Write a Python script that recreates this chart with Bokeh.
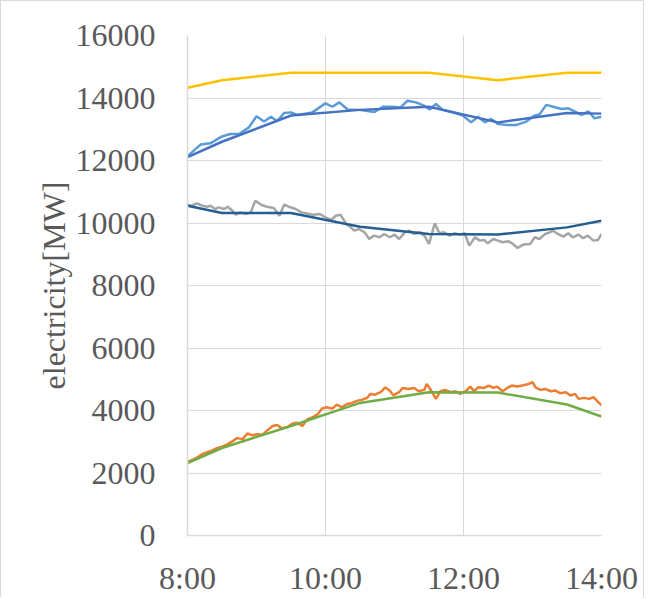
from bokeh.plotting import figure
from bokeh.models import FixedTicker, Range1d
from bokeh.embed import file_html
from bokeh.resources import INLINE

# ---------------- data ----------------
# hourly-style smooth series (hours of day)
smooth_hours = [8.0, 8.5, 9.5, 10.5, 11.5, 12.5, 13.5, 14.0]
yellow_vals = [14330, 14570, 14810, 14810, 14810, 14570, 14810, 14810]
blue_smooth_vals = [12110, 12600, 13440, 13620, 13720, 13220, 13520, 13500]
navy_smooth_vals = [10550, 10320, 10320, 9880, 9650, 9630, 9860, 10075]
green_vals = [2320, 2800, 3505, 4242, 4585, 4574, 4191, 3808]

# noisy light-blue series (hours of day)
lightblue_hours = [8.00, 8.19, 8.33, 8.50, 8.62, 8.75, 8.89, 9.00, 9.11, 9.21, 9.30, 9.40, 9.50,
                   9.59, 9.81, 10.00, 10.10, 10.20, 10.32, 10.49, 10.71, 10.83, 10.97, 11.09,
                   11.19, 11.31, 11.43, 11.51, 11.60, 11.70, 11.89, 11.99, 12.11, 12.21, 12.31,
                   12.40, 12.50, 12.62, 12.77, 12.91, 13.03, 13.10, 13.20, 13.30, 13.42, 13.52,
                   13.61, 13.71, 13.81, 13.90, 14.00]
lightblue_vals = [12140, 12510, 12550, 12770, 12850, 12850, 13060, 13415, 13245, 13400, 13255,
                  13520, 13540, 13460, 13540, 13830, 13720, 13860, 13630, 13620, 13550, 13720,
                  13720, 13700, 13915, 13860, 13755, 13630, 13810, 13620, 13510, 13440, 13220,
                  13400, 13220, 13330, 13170, 13140, 13140, 13245, 13440, 13470, 13780, 13720,
                  13650, 13670, 13575, 13460, 13575, 13350, 13400]

# noisy gray series (minutes after 8:00)
gray_minutes = [0, 4, 8, 13, 17, 20, 24, 27, 32, 35, 39, 42, 46, 51, 55, 59, 64, 69, 75, 80,
                84, 88, 94, 99, 103, 109, 115, 120, 125, 129, 133, 138, 142, 145, 149, 154, 158,
                162, 167, 171, 176, 180, 184, 189, 193, 197, 202, 206, 210, 215, 219, 223, 228,
                232, 237, 241, 245, 250, 254, 258, 261, 266, 270, 274, 279, 283, 287, 292, 298,
                302, 306, 311, 315, 318, 322, 327, 331, 335, 340, 344, 348, 353, 357, 360]
gray_vals = [10585, 10553, 10628, 10553, 10521, 10553, 10447, 10500, 10447, 10521,
             10394, 10266, 10340, 10287, 10340, 10713, 10585, 10521, 10479, 10234,
             10585, 10521, 10447, 10340, 10309, 10266, 10287, 10181, 10096, 10234,
             10266, 9968, 9862, 9755, 9809, 9702, 9489, 9596, 9543, 9649,
             9543, 9628, 9489, 9702, 9755, 9649, 9702, 9596, 9330, 9989,
             9670, 9702, 9596, 9670, 9628, 9670, 9277, 9543, 9436, 9457,
             9351, 9489, 9436, 9383, 9415, 9330, 9202, 9309, 9330, 9543,
             9489, 9649, 9702, 9755, 9649, 9564, 9670, 9543, 9628, 9511,
             9596, 9436, 9457, 9649]

# noisy orange series (minutes after 8:00)
orange_minutes = [0, 4, 8, 13, 17, 21, 26, 30, 35, 39, 43, 48, 52, 56, 61, 65, 69, 74, 78, 82,
                  87, 91, 95, 100, 104, 108, 113, 117, 121, 126, 130, 134, 139, 143, 148, 152,
                  156, 159, 163, 168, 172, 176, 179,
                  184, 187, 192, 197, 201, 206, 208, 211, 216, 220, 224, 229, 233, 237, 242,
                  246, 249, 253, 258, 262, 266, 269, 274, 278, 282, 287, 291, 295, 300, 303,
                  307, 311, 316, 320, 324, 329, 333, 337, 340, 345, 349, 353, 356, 360]
orange_vals = [2347, 2421, 2484, 2611, 2663, 2716, 2800, 2842, 2926, 3011, 3116, 3084, 3263,
               3211, 3242, 3221, 3347, 3505, 3537, 3432, 3474, 3579, 3611, 3505, 3716, 3768,
               3874, 4063, 4105, 4063, 4189, 4105, 4210, 4242, 4316, 4347, 4400, 4526, 4505,
               4589, 4737, 4632, 4484,
               4585, 4723, 4690, 4723, 4617, 4660, 4851, 4690, 4372, 4617, 4660, 4585, 4617,
               4532, 4617, 4766, 4617, 4745, 4723, 4798, 4723, 4766, 4617, 4723, 4798, 4766,
               4798, 4830, 4904, 4723, 4660, 4690, 4617, 4638, 4553, 4585, 4479, 4532, 4372,
               4404, 4372, 4425, 4319, 4160]

x_ticks = [8, 10, 12, 14]
x_tick_labels = ["8:00", "10:00", "12:00", "14:00"]
y_ticks = [0, 2000, 4000, 6000, 8000, 10000, 12000, 14000, 16000]
y_label = "electricity[MW]"

# ---------------- figure ----------------
FONT = "Liberation Serif"
TXT = "#595959"
GRID = "#d9d9d9"

p = figure(width=644, height=597,
           x_range=Range1d(8, 14), y_range=Range1d(0, 16000),
           output_backend="svg", toolbar_location=None,
           min_border_left=186, min_border_right=44,
           min_border_top=34, min_border_bottom=62)
p.styles = {"border-top": "1px solid #d9d9d9", "border-left": "1px solid #d9d9d9",
            "border-right": "1px solid #d9d9d9"}
p.outline_line_color = None
p.background_fill_color = "white"
p.border_fill_color = "white"

p.xaxis.ticker = FixedTicker(ticks=x_ticks)
p.xaxis.major_label_overrides = {t: l for t, l in zip(x_ticks, x_tick_labels)}
p.yaxis.ticker = FixedTicker(ticks=y_ticks)
p.xgrid.ticker = FixedTicker(ticks=x_ticks)
p.ygrid.ticker = FixedTicker(ticks=y_ticks)

for ax in (p.xaxis, p.yaxis):
    ax.major_label_text_font = FONT
    ax.major_label_text_font_size = "32px"
    ax.major_label_text_color = TXT
    ax.major_tick_line_color = None
    ax.minor_tick_line_color = None
    ax.axis_line_color = GRID
    ax.axis_line_width = 1.5

p.yaxis.major_label_standoff = 26
p.xaxis.major_label_standoff = 18
p.yaxis.axis_label = y_label
p.yaxis.axis_label_text_font = FONT
p.yaxis.axis_label_text_font_size = "32px"
p.yaxis.axis_label_text_font_style = "normal"
p.yaxis.axis_label_text_color = TXT
p.yaxis.axis_label_standoff = 1

p.grid.grid_line_color = GRID
p.grid.grid_line_width = 1

LW = 2.5
p.line(smooth_hours, yellow_vals, line_color="#FFC000", line_width=LW)
p.line(lightblue_hours, lightblue_vals, line_color="#5B9BD5", line_width=LW)
p.line(smooth_hours, blue_smooth_vals, line_color="#4472C4", line_width=LW)
p.line([8 + m / 60 for m in gray_minutes], gray_vals, line_color="#A5A5A5", line_width=LW)
p.line(smooth_hours, navy_smooth_vals, line_color="#255E91", line_width=LW)
p.line([8 + m / 60 for m in orange_minutes], orange_vals, line_color="#ED7D31", line_width=LW)
p.line(smooth_hours, green_vals, line_color="#70AD47", line_width=LW)

open("out.html", "w").write(file_html(p, INLINE))
